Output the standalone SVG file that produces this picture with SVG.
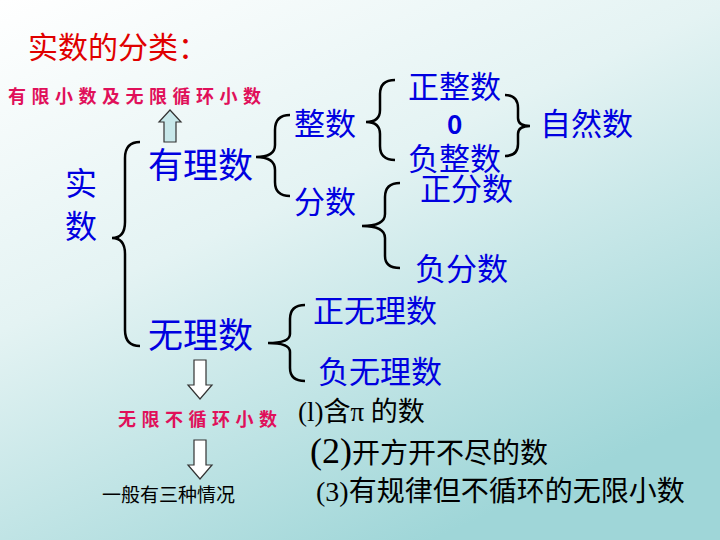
<svg xmlns="http://www.w3.org/2000/svg" width="720" height="540" viewBox="0 0 720 540">
<defs>
<linearGradient id="bg" x1="0" y1="0" x2="0.6" y2="1">
<stop offset="0" stop-color="#ffffff"/><stop offset="0.45" stop-color="#e4f3f3"/><stop offset="1" stop-color="#9fd6d8"/>
</linearGradient>
<style>
.b{fill:#0000e0;font-family:"Noto Sans CJK SC",sans-serif}
.r{fill:#e0105a;font-family:"Noto Sans CJK SC",sans-serif;font-weight:bold}
.k{fill:#000;font-family:"Liberation Serif","Noto Sans CJK SC",serif}
.br{fill:none;stroke:#000;stroke-width:2.5}
</style>
</defs>
<rect width="720" height="540" fill="url(#bg)"/>
<text x="28" y="58" font-size="30" fill="#e00000" font-family="Noto Sans CJK SC,sans-serif">实数的分类：</text>
<text x="8" y="103" font-size="18" class="r" letter-spacing="5.5">有限小数及无限循环小数</text>
<g id="connectors">
<path d="M164,142 V122 H159 L170,110 L181,122 H176 V142 Z" fill="#c8e8ea" stroke="#333" stroke-width="1.2"/>
<path d="M194,360 H206 V385 H212 L200,399 L188,385 H194 Z" fill="#fff" stroke="#333" stroke-width="1.2"/>
<path d="M194,440 H206 V465 H212 L200,479 L188,465 H194 Z" fill="#fff" stroke="#333" stroke-width="1.2"/>
<path class="br" d="M140,142 Q125,142 125,158 V222 Q125,238 112,238 Q125,238 125,254 V330 Q125,346 140,346"/>
<path class="br" d="M290,115 Q275,115 275,130 V145 Q275,157 256,157 Q275,157 275,170 V182 Q275,196 290,196"/>
<path class="br" d="M395,80 Q380,80 380,94 V110 Q380,122 366,122 Q380,122 380,134 V146 Q380,160 395,160"/>
<path class="br" d="M505,95 Q518,95 518,108 V118 Q518,126 530,126 Q518,126 518,134 V144 Q518,156 505,156"/>
<path class="br" d="M400,183 Q385,183 385,197 V214 Q385,226 362,226 Q385,226 385,238 V256 Q385,268 400,268"/>
<path class="br" d="M305,305 Q290,305 290,319 V334 Q290,343 268,343 Q290,343 290,352 V368 Q290,381 305,381"/>
</g>
<g id="n-real"><text class="b" x="65" y="195" font-size="32">实</text><text class="b" x="65" y="238" font-size="32">数</text></g>
<g id="n-rational"><text class="b" x="148" y="178" font-size="35">有理数</text></g>
<g id="n-irrational"><text class="b" x="148" y="348" font-size="35">无理数</text></g>
<g id="n-int"><text class="b" x="294" y="135" font-size="31">整数</text></g>
<g id="n-frac"><text class="b" x="294" y="213" font-size="31">分数</text></g>
<g id="n-posint"><text class="b" x="408" y="98" font-size="31">正整数</text></g>
<g id="n-zero"><text class="b" x="447" y="134" font-size="26" font-weight="bold" font-family="Liberation Sans,sans-serif">0</text></g>
<g id="n-negint"><text class="b" x="408" y="170" font-size="31">负整数</text></g>
<g id="n-natural"><text class="b" x="540" y="135" font-size="31">自然数</text></g>
<g id="n-posfrac"><text class="b" x="420" y="200" font-size="31">正分数</text></g>
<g id="n-negfrac"><text class="b" x="415" y="280" font-size="31">负分数</text></g>
<g id="n-posirr"><text class="b" x="313" y="322" font-size="31">正无理数</text></g>
<g id="n-negirr"><text class="b" x="318" y="383" font-size="31">负无理数</text></g>
<g id="n-nonrep"><text class="r" x="118" y="426" font-size="18" letter-spacing="5.5">无限不循环小数</text></g>
<g id="n-three"><text x="102" y="502" font-size="19" font-family="Noto Sans CJK SC,sans-serif">一般有三种情况</text></g>
<g id="n-c1"><text class="k" x="298" y="421" font-size="27">(l)含π 的数</text></g>
<g id="n-c2"><text class="k" x="310" y="463" font-size="28"><tspan font-size="36">(2)</tspan>开方开不尽的数</text></g>
<g id="n-c3"><text class="k" x="316" y="501" font-size="28">(3)有规律但不循环的无限小数</text></g>
</svg>
